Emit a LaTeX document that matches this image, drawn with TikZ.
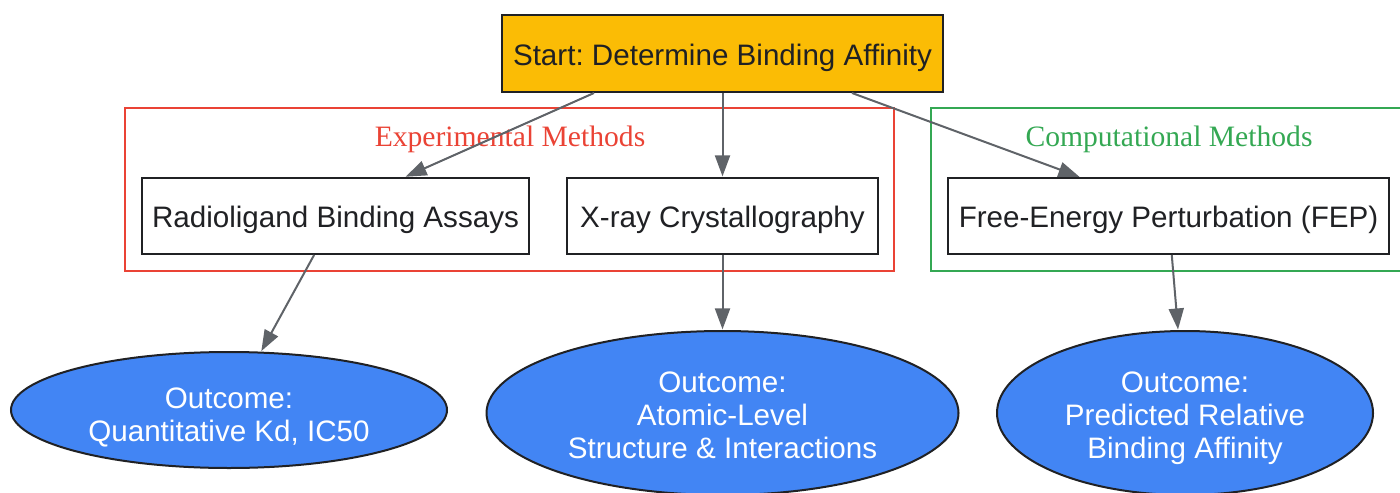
\documentclass[tikz,border=0pt]{standalone}
\usepackage{fontspec}
\setmainfont{Liberation Serif}
\setsansfont{Liberation Sans}
\usetikzlibrary{arrows.meta,shapes.geometric}
\frenchspacing
\definecolor{gyellow}{HTML}{FBBC05}
\definecolor{gblue}{HTML}{4285F4}
\definecolor{gred}{HTML}{EA4335}
\definecolor{ggreen}{HTML}{34A853}
\definecolor{gedge}{HTML}{5F6368}
\definecolor{gtext}{HTML}{202124}
\tikzset{
  boxnode/.style={draw=gtext, line width=1pt, text=gtext, inner sep=0pt,
    minimum height=38pt, text height=12.3pt, text depth=0.4pt,
    font=\sffamily\fontsize{14.8}{16.5}\selectfont\frenchspacing},
  outnode/.style={ellipse, draw=gtext, line width=1pt, fill=gblue, inner sep=0pt},
  outtext/.style={text=white, inner sep=0pt, align=center,
    font=\sffamily\fontsize{14.8}{16.5}\selectfont\frenchspacing},
  cluster/.style={line width=1pt},
  clusterlabel/.style={font=\rmfamily\fontsize{14.8}{16}\selectfont},
  arr/.style={draw=gedge, line width=1pt, -{Triangle[length=10.5pt,width=7.5pt]}, shorten >=0.3pt}
}
\begin{document}
\begin{tikzpicture}[x=0.5pt,y=-0.5pt]
\useasboundingbox (0,0) rectangle (1400,492);
% clusters
\draw[cluster, draw=gred] (125,108) rectangle (894,271);
\node[clusterlabel, text=gred] (explabel) at (510,139) {Experimental Methods};
\draw[cluster, draw=ggreen] (931,108) rectangle (1410,271);
\node[clusterlabel, text=ggreen] (complabel) at (1169,139) {Computational Methods};
% nodes
\node[boxnode, fill=gyellow, minimum width=220.5pt, minimum height=38.5pt] (start) at (722.5,53.5) {Start: Determine Binding Affinity};
\node[boxnode, fill=white, minimum width=193.5pt] (rad) at (335.5,216) {Radioligand Binding Assays};
\node[boxnode, fill=white, minimum width=155.5pt] (xray) at (722.5,216) {X-ray Crystallography};
\node[boxnode, fill=white, minimum width=220.5pt] (fep) at (1168.5,216) {Free-Energy Perturbation (FEP)};
\node[outnode, minimum width=218pt, minimum height=58pt] (out1) at (229,410) {};
\node[outtext] (out1text) at (229,417.5) {Outcome:\\Quantitative Kd, IC50};
\node[outnode, minimum width=236pt, minimum height=82pt] (out2) at (722.5,413) {};
\node[outtext] (out2text) at (722.5,415) {Outcome:\\Atomic-Level\\Structure \& Interactions};
\node[outnode, minimum width=188pt, minimum height=82pt] (out3) at (1185,413) {};
\node[outtext] (out3text) at (1185,418) {Outcome:\\Predicted Relative\\Binding Affinity};
% edges
\draw[arr] ([xshift=-64.25pt]start.south) -- ([xshift=34.75pt]rad.north);
\draw[arr] (start) -- (xray);
\draw[arr] ([xshift=64.75pt]start.south) -- ([xshift=-44.25pt]fep.north);
\draw[arr] (rad) -- (out1);
\draw[arr] (xray) -- (out2);
\draw[arr] (fep) -- (out3);
\end{tikzpicture}
\end{document}
